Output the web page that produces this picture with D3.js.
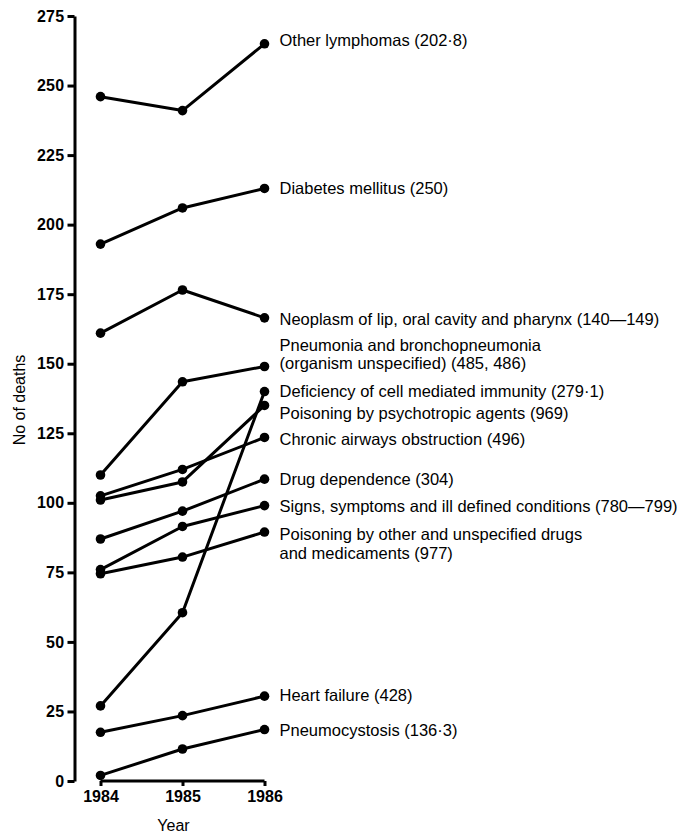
<!DOCTYPE html>
<html>
<head>
<meta charset="utf-8">
<script src="https://cdn.jsdelivr.net/npm/d3@7"></script>
<style>
  html, body { margin: 0; padding: 0; background: #fff; }
  svg { display: block; }
  text { fill: #000; }
</style>
</head>
<body>
<svg id="chart" width="677" height="836"></svg>
<script>
// Deaths by cause, 1984-1986
const years = [1984, 1985, 1986];
const yTicks = [0, 25, 50, 75, 100, 125, 150, 175, 200, 225, 250, 275];

const causeLabels = [
  ["Other lymphomas (202·8)"],
  ["Diabetes mellitus (250)"],
  ["Neoplasm of lip, oral cavity and pharynx (140\u2014149)"],
  ["Pneumonia and bronchopneumonia", "(organism unspecified) (485, 486)"],
  ["Deficiency of cell mediated immunity (279·1)"],
  ["Poisoning by psychotropic agents (969)"],
  ["Chronic airways obstruction (496)"],
  ["Drug dependence (304)"],
  ["Signs, symptoms and ill defined conditions (780\u2014799)"],
  ["Poisoning by other and unspecified drugs", "and medicaments (977)"],
  ["Heart failure (428)"],
  ["Pneumocystosis (136·3)"]
];

const otherLymphomas = [246, 241, 265];
const diabetes       = [193, 206, 213];
const neoplasmLip    = [161, 176.5, 166.5];
const pneumonia      = [110, 143.5, 149];
const cellImmunity   = [27, 60.5, 140];
const psychotropic   = [101, 107.5, 135];
const chronicAirways = [102.5, 112, 123.5];
const drugDependence = [87, 97, 108.5];
const signsSymptoms  = [76, 91.5, 99];
const otherDrugs     = [74.5, 80.5, 89.5];
const heartFailure   = [17.5, 23.5, 30.5];
const pneumocystosis = [2, 11.5, 18.5];

const seriesValues = [
  otherLymphomas, diabetes, neoplasmLip, pneumonia, cellImmunity,
  psychotropic, chronicAirways, drugDependence, signsSymptoms,
  otherDrugs, heartFailure, pneumocystosis
];

// vertical nudge of each label block relative to its 1986 point (px)
const labelNudge = [-4, 0, 1, -22, -1, 8, 2, 0, 0, 2, -1, 0];

const svg = d3.select("#chart");
const font = "'Liberation Sans', Arial, Helvetica, sans-serif";
const stroke = 3;

const y = d3.scaleLinear().domain([0, 275]).range([781, 16]);
const x = d3.scalePoint().domain(years).range([100.5, 264.5]);

// y axis
const yAxis = svg.append("g")
  .attr("transform", "translate(74.5,0)")
  .call(d3.axisLeft(y).tickValues(yTicks).tickSize(7).tickSizeOuter(0).tickPadding(3));
yAxis.select(".domain").attr("stroke", "#000").attr("stroke-width", stroke);
yAxis.selectAll(".tick line").attr("stroke", "#000").attr("stroke-width", stroke);
yAxis.selectAll(".tick text")
  .attr("font-family", font).attr("font-weight", "bold").attr("font-size", 16)
  .attr("letter-spacing", 0.3)
  .attr("fill", "#000");

// x axis
const xAxis = svg.append("g")
  .attr("transform", "translate(0,781)")
  .call(d3.axisBottom(x).tickSize(5).tickSizeOuter(0).tickPadding(5));
xAxis.select(".domain").attr("stroke", "#000").attr("stroke-width", stroke)
  .attr("d", `M${x(1984)},0H${x(1986)}`);
xAxis.selectAll(".tick line").attr("stroke", "#000").attr("stroke-width", stroke);
xAxis.selectAll(".tick text")
  .attr("font-family", font).attr("font-weight", "bold").attr("font-size", 16)
  .attr("fill", "#000");

// axis titles
svg.append("text")
  .attr("x", 173.5).attr("y", 831)
  .attr("text-anchor", "middle")
  .attr("font-family", font).attr("font-size", 16)
  .text("Year");

svg.append("text")
  .attr("transform", "translate(25,400) rotate(-90)")
  .attr("text-anchor", "middle")
  .attr("font-family", font).attr("font-size", 16)
  .text("No of deaths");

// lines and points
const line = d3.line().x((d, i) => x(years[i])).y(d => y(d));

const groups = svg.append("g").selectAll("g")
  .data(seriesValues)
  .join("g");

groups.append("path")
  .attr("d", d => line(d))
  .attr("fill", "none")
  .attr("stroke", "#000")
  .attr("stroke-width", stroke)
  .attr("stroke-linejoin", "round");

groups.selectAll("circle")
  .data(d => d)
  .join("circle")
  .attr("cx", (d, i) => x(years[i]))
  .attr("cy", d => y(d))
  .attr("r", 4.8)
  .attr("fill", "#000");

// labels at the 1986 end of each line
groups.each(function (d, i) {
  const t = d3.select(this).append("text")
    .attr("font-family", font)
    .attr("font-size", 16.5)
    .attr("x", x(1986) + 15)
    .attr("y", y(d[2]) + labelNudge[i] + 6);
  causeLabels[i].forEach((s, j) => {
    t.append("tspan")
      .attr("x", x(1986) + 15)
      .attr("dy", j === 0 ? 0 : 18.5)
      .text(s);
  });
});
</script>
</body>
</html>
